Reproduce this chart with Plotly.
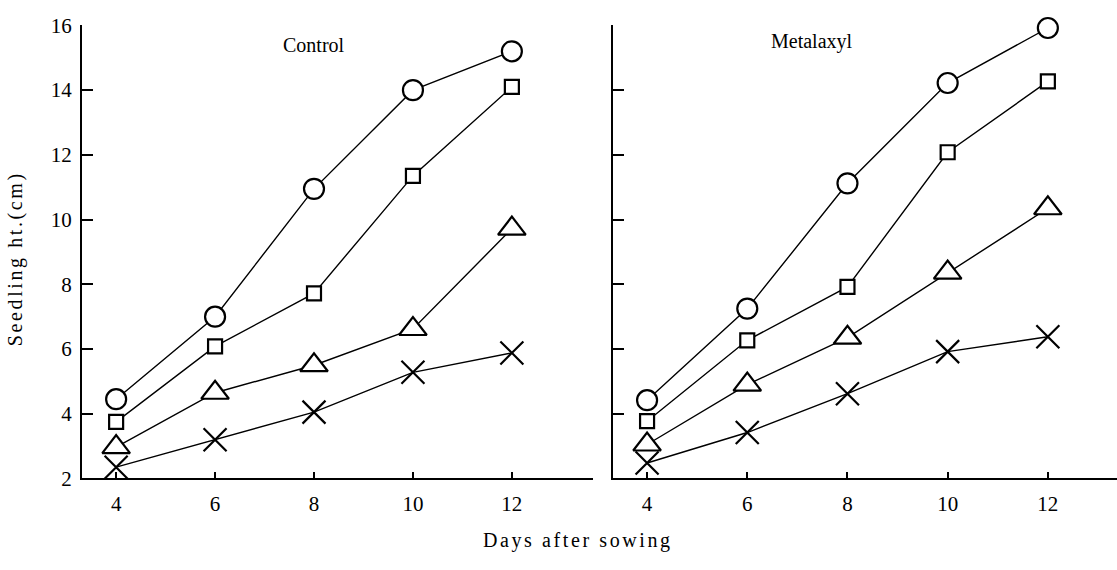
import plotly.graph_objects as go

days = [4, 6, 8, 10, 12]

# Control panel
control_circle = [4.45, 7.0, 10.95, 14.0, 15.2]
control_square = [3.75, 6.08, 7.72, 11.35, 14.1]
control_triangle = [2.97, 4.65, 5.5, 6.62, 9.72]
control_cross = [2.35, 3.2, 4.05, 5.28, 5.88]

# Metalaxyl panel
metal_circle = [4.42, 7.25, 11.12, 14.22, 15.92]
metal_square = [3.77, 6.27, 7.92, 12.08, 14.27]
metal_triangle = [3.05, 4.9, 6.35, 8.36, 10.35]
metal_cross = [2.48, 3.42, 4.62, 5.92, 6.38]

ytick_vals = [2, 4, 6, 8, 10, 12, 14, 16]
xtick_vals = [4, 6, 8, 10, 12]

W, H = 1117, 570
FONT = "Liberation Serif"

fig = go.Figure()

# (symbol, size, fill colour)
series_styles = [
    ("circle", 20, "white"),
    ("square", 14, "white"),
    ("triangle-up", 24, "white"),
    ("x-thin-open", 23, "black"),
]

panels = [
    ("x", "y", [control_circle, control_square, control_triangle, control_cross]),
    ("x2", "y2", [metal_circle, metal_square, metal_triangle, metal_cross]),
]

for xa, ya, data in panels:
    for vals in data:
        fig.add_trace(go.Scatter(
            x=days, y=vals, xaxis=xa, yaxis=ya,
            mode="lines",
            line=dict(color="black", width=1.4),
            showlegend=False, hoverinfo="skip",
        ))
for xa, ya, data in panels:
    for vals, (sym, size, fill) in zip(data, series_styles):
        fig.add_trace(go.Scatter(
            x=days, y=vals, xaxis=xa, yaxis=ya, mode="markers",
            marker=dict(symbol=sym, size=size, color=fill,
                        line=dict(color="black", width=2.2)),
            showlegend=False, hoverinfo="skip", cliponaxis=False,
        ))

ydom = [(H - 487) / H, (H - 14) / H]
common_x = dict(
    showline=True, linecolor="black", linewidth=2,
    ticks="inside", ticklen=6, tickwidth=1.5, tickcolor="black",
    tickvals=xtick_vals, showgrid=False, zeroline=False,
    tickfont=dict(family=FONT, size=21, color="black"),
    ticklabelstandoff=5,
)
common_y = dict(
    showline=True, linecolor="black", linewidth=2.2,
    ticks="inside", ticklen=11, tickwidth=1.8, tickcolor="black",
    tickvals=ytick_vals, range=[2, 16], showgrid=False, zeroline=False,
    tickfont=dict(family=FONT, size=21, color="black"),
    domain=ydom,
)

SP = "letter-spacing:2.6px"

fig.update_layout(
    width=W, height=H,
    margin=dict(l=0, r=0, t=0, b=0),
    paper_bgcolor="white", plot_bgcolor="white",
    xaxis=dict(common_x, domain=[82 / W, 593 / W], range=[3.31, 13.64], anchor="y"),
    yaxis=dict(common_y, anchor="x", ticklabelstandoff=4),
    xaxis2=dict(common_x, domain=[613 / W, 1.0], range=[3.32, 13.38], anchor="y2"),
    yaxis2=dict(common_y, anchor="x2", showticklabels=False),
    annotations=[
        dict(text="Control", x=8.0, y=15.4, xref="x", yref="y", showarrow=False,
             font=dict(family=FONT, size=20, color="black")),
        dict(text="Metalaxyl", x=7.3, y=15.5, xref="x2", yref="y2", showarrow=False,
             font=dict(family=FONT, size=20, color="black")),
        dict(text=f'<span style="{SP}">Seedling ht.(cm)</span>', x=15 / W, y=(H - 258) / H,
             xref="paper", yref="paper", xanchor="center", yanchor="middle",
             textangle=-90, showarrow=False,
             font=dict(family=FONT, size=20, color="black")),
        dict(text=f'<span style="{SP}">Days after sowing</span>', x=578 / W, y=(H - 552) / H,
             xref="paper", yref="paper", xanchor="center", yanchor="middle",
             showarrow=False,
             font=dict(family=FONT, size=20, color="black")),
    ],
)

fig.write_html("out.html", config={"displayModeBar": False},
               post_script="document.body.style.margin='0px';")
